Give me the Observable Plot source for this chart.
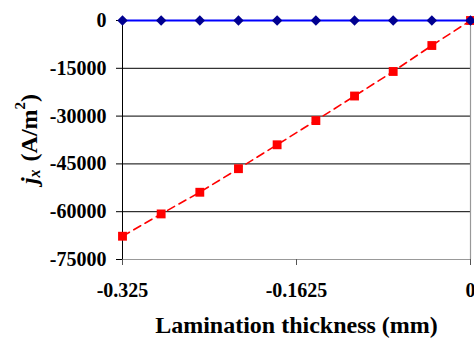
<!DOCTYPE html>
<html>
<head>
<meta charset="utf-8">
<script src="https://cdn.jsdelivr.net/npm/d3@7"></script>
<script src="https://cdn.jsdelivr.net/npm/@observablehq/plot@0.6"></script>
<style>
  html, body { margin: 0; padding: 0; background: #fff; }
  #chart svg { display: block; }
</style>
</head>
<body>
<div id="chart"></div>
<script>
// Data
const thickness = [-0.325, -0.2889, -0.2528, -0.2167, -0.1806, -0.1444, -0.1083, -0.0722, -0.0361, 0];
const jxDashed = [-67700, -60700, -53900, -46500, -39000, -31400, -23700, -16000, -7850, 0];
const jxSolid = [0, 0, 0, 0, 0, 0, 0, 0, 0, 0];
const xTicks = [-0.325, -0.1625, 0];
const yTicks = [0, -15000, -30000, -45000, -60000, -75000];
const gridValues = [-15000, -30000, -45000, -60000];
const xTitle = "Lamination thickness (mm)";

const redData = thickness.map((t, i) => ({x: t, y: jxDashed[i]}));
const blueData = thickness.map((t, i) => ({x: t, y: jxSolid[i]}));

const font = "'Liberation Serif', 'Times New Roman', serif";

const svg = Plot.plot({
  width: 474,
  height: 340,
  marginLeft: 122,
  marginRight: 4,
  marginTop: 20,
  marginBottom: 81,
  style: {fontFamily: font, fontSize: "20px", fontWeight: "bold", background: "#fff", color: "#000", overflow: "visible"},
  x: {domain: [-0.325, 0]},
  y: {domain: [-75000, 0]},
  marks: [
    Plot.ruleY(gridValues, {stroke: "#000", strokeWidth: 1, strokeOpacity: 1}),
    Plot.ruleY([-75000], {stroke: "#999", strokeWidth: 1.2}),
    Plot.ruleX([0], {stroke: "#999", strokeWidth: 1.2}),
    Plot.ruleX([-0.325], {stroke: "#000", strokeWidth: 1}),
    Plot.axisY({ticks: yTicks, tickFormat: d => String(d), tickSize: 6, tickPadding: 10, fontSize: 20, fontWeight: "bold", label: null, stroke: "#000"}),
    Plot.axisX({ticks: xTicks, tickFormat: d => String(d), tickSize: 6, tickPadding: 17, fontSize: 20, fontWeight: "bold", label: null, stroke: "#555"}),
    Plot.line(redData, {x: "x", y: "y", stroke: "#ff0000", strokeWidth: 1.6, strokeDasharray: "8,5"}),
    Plot.dot(redData, {x: "x", y: "y", symbol: "square", r: 5, fill: "#ff0000", stroke: "none"}),
    Plot.line(blueData, {x: "x", y: "y", stroke: "#0000ff", strokeWidth: 1.8}),
    Plot.dot(blueData, {x: "x", y: "y", symbol: "diamond2", r: 4.7, fill: "#000090", stroke: "none"}),
    Plot.text([xTitle], {frameAnchor: "bottom", dy: 66, lineAnchor: "middle", text: d => d, fontSize: 24, fontWeight: "bold", fill: "#000"})
  ]
});

// Rotated y-axis title with subscript and superscript
const s = d3.select(svg);
const yl = s.append("text")
  .attr("transform", "translate(37,139) rotate(-90)")
  .attr("text-anchor", "middle")
  .attr("font-family", font)
  .attr("font-size", 24)
  .attr("font-weight", "bold")
  .attr("fill", "#000")
  .attr("xml:space", "preserve");
yl.append("tspan").attr("font-style", "italic").text("j");
yl.append("tspan").attr("font-style", "italic").attr("font-size", 16).attr("dy", 3).text("x");
yl.append("tspan").attr("dy", -3).attr("dx", 8).text("(A/m");
yl.append("tspan").attr("font-size", 15).attr("dy", -12).text("2");
yl.append("tspan").attr("dy", 12).text(")");

document.getElementById("chart").appendChild(svg);
</script>
</body>
</html>
